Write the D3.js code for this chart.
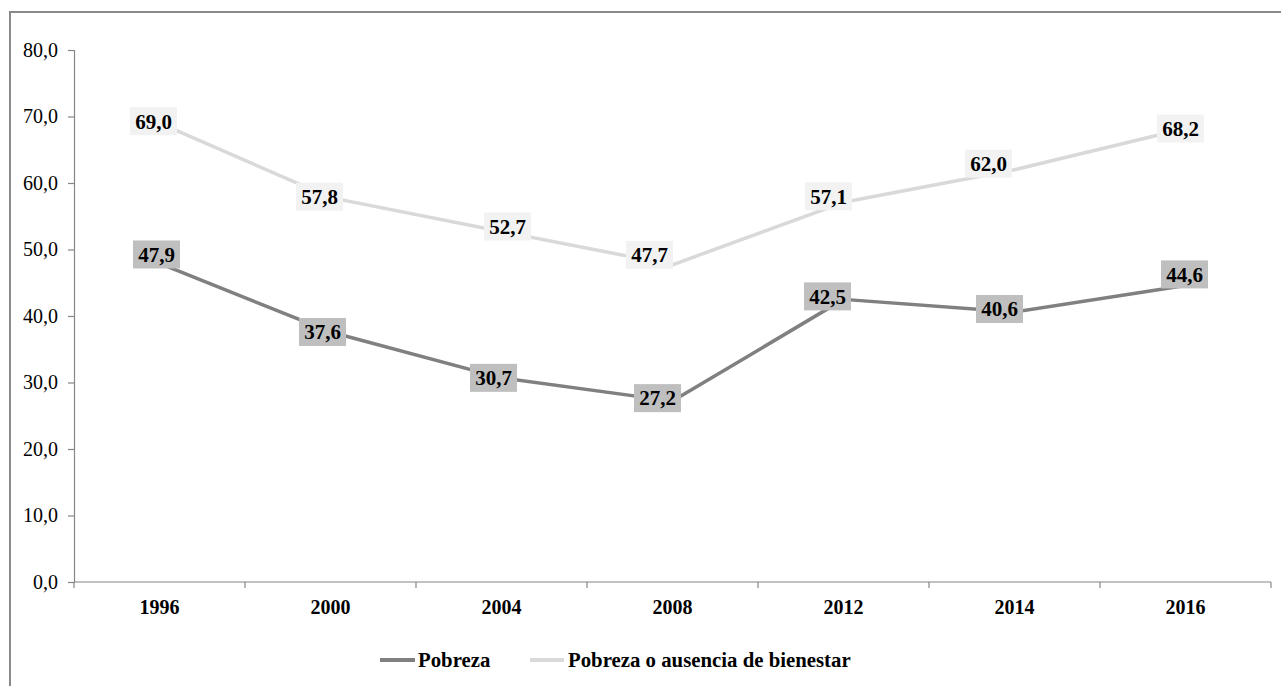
<!DOCTYPE html>
<html>
<head>
<meta charset="utf-8">
<script src="https://cdn.jsdelivr.net/npm/d3@7"></script>
<style>
  html, body { margin: 0; padding: 0; background: #fff; }
  svg { display: block; }
</style>
</head>
<body>
<svg id="chart" width="1281" height="686"></svg>
<script>
const years = ["1996", "2000", "2004", "2008", "2012", "2014", "2016"];
const pobreza = [47.9, 37.6, 30.7, 27.2, 42.5, 40.6, 44.6];
const pobrezaBienestar = [69.0, 57.8, 52.7, 47.7, 57.1, 62.0, 68.2];
const seriesNames = ["Pobreza", "Pobreza o ausencia de bienestar"];
const yTicks = [0, 10, 20, 30, 40, 50, 60, 70, 80];

// label nudges (layout only)
const darkLabelOffset = [[-3,-9],[-8,0],[-8,0],[-15,-3],[-16,-3],[-15,-3],[-1,-11]];
const lightLabelOffset = [[-6,-2],[-11,-1],[6,-5],[-23,-10],[-15,-6],[-26,-6],[-5,0]];

const svg = d3.select("#chart");
const fmt = v => d3.format(".1f")(v).replace(".", ",");
const FONT = "'Liberation Serif', 'Times New Roman', serif";

// outer border
svg.append("rect").attr("x", 10).attr("y", 12).attr("width", 1300).attr("height", 720)
  .attr("fill", "none").attr("stroke", "#8a8a8a").attr("stroke-width", 2);

const x = d3.scaleBand().domain(years).range([74, 1271]).padding(0);
const y = d3.scaleLinear().domain([0, 80]).range([582, 50]);

// y axis
const yAxis = svg.append("g").attr("transform", "translate(74,0)")
  .call(d3.axisLeft(y).tickValues(yTicks).tickFormat(fmt).tickSizeOuter(0).tickSize(6).tickPadding(10));
yAxis.select(".domain").attr("stroke", "#868686").attr("stroke-width", 1.2);
yAxis.selectAll(".tick line").attr("stroke", "#868686").attr("stroke-width", 1.2);
yAxis.selectAll(".tick text").attr("font-family", FONT)
  .attr("font-size", 20).attr("fill", "#000");

// x axis
const xAxis = svg.append("g").attr("transform", "translate(0,582)")
  .call(d3.axisBottom(x).tickSize(0).tickPadding(18));
xAxis.select(".domain").remove();
xAxis.append("line").attr("x1", 74).attr("x2", 1271).attr("y1", 0).attr("y2", 0)
  .attr("stroke", "#868686").attr("stroke-width", 1.2);
const bounds = years.map(d => x(d)).concat([x(years[years.length-1]) + x.bandwidth()]);
xAxis.selectAll(".bt").data(bounds).enter().append("line")
  .attr("x1", d => d).attr("x2", d => d).attr("y1", 0).attr("y2", 6)
  .attr("stroke", "#868686").attr("stroke-width", 1.2);
xAxis.selectAll(".tick text").attr("font-family", FONT)
  .attr("font-size", 20).attr("font-weight", "bold").attr("fill", "#000");

const cx = d => x(d) + x.bandwidth() / 2;
const line = d3.line().x(d => cx(d[0])).y(d => y(d[1]));

const series = [
  {vals: pobreza, color: "#808080", box: "#bfbfbf", off: darkLabelOffset},
  {vals: pobrezaBienestar, color: "#d9d9d9", box: "#f2f2f2", off: lightLabelOffset}
];

series.forEach(s => {
  svg.append("path").datum(years.map((yr, i) => [yr, s.vals[i]]))
    .attr("d", line).attr("fill", "none").attr("stroke", s.color).attr("stroke-width", 3.5)
    .attr("stroke-linejoin", "round");
});

series.forEach(s => {
  const g = svg.append("g");
  years.forEach((yr, i) => {
    const px = cx(yr) + s.off[i][0];
    const py = y(s.vals[i]) + s.off[i][1];
    g.append("rect").attr("x", px - 23.5).attr("y", py - 14).attr("width", 47).attr("height", 28)
      .attr("fill", s.box);
    g.append("text").attr("x", px).attr("y", py).attr("dy", "0.35em")
      .attr("text-anchor", "middle")
      .attr("font-family", FONT)
      .attr("font-size", 21).attr("font-weight", "bold").attr("fill", "#000")
      .text(fmt(s.vals[i]));
  });
});

// legend
const legend = svg.append("g");
const legItems = [
  {name: seriesNames[0], color: "#808080", x1: 380, x2: 415, tx: 418},
  {name: seriesNames[1], color: "#d9d9d9", x1: 530, x2: 564, tx: 568}
];
legItems.forEach(it => {
  legend.append("line").attr("x1", it.x1).attr("x2", it.x2).attr("y1", 660).attr("y2", 660)
    .attr("stroke", it.color).attr("stroke-width", 4);
  legend.append("text").attr("x", it.tx).attr("y", 660).attr("dy", "0.35em")
    .attr("font-family", FONT)
    .attr("font-size", 20.8).attr("font-weight", "bold").attr("fill", "#000")
    .text(it.name);
});
</script>
</body>
</html>
